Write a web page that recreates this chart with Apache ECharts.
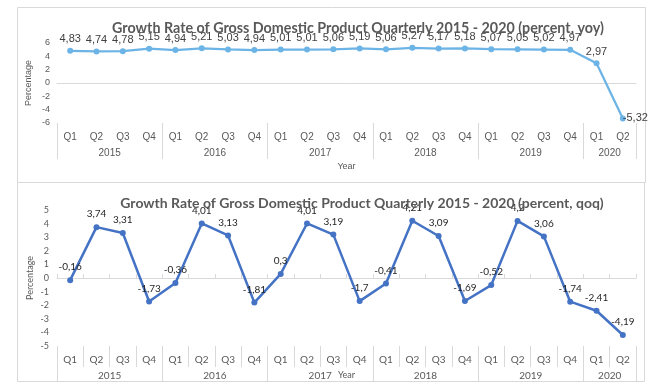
<!DOCTYPE html>
<html>
<head>
<meta charset="utf-8">
<script src="https://cdn.jsdelivr.net/npm/echarts@6/dist/echarts.min.js"></script>
<style>
html,body{margin:0;padding:0;background:#fff;}
#c{width:656px;height:389px;}
</style>
</head>
<body>
<div id="c"></div>
<script>
// ---- data ----
const years = ['2015', '2016', '2017', '2018', '2019', '2020'];
const quartersPerYear = [4, 4, 4, 4, 4, 2];
const quarterNames = ['Q1', 'Q2', 'Q3', 'Q4'];
const yoyValues = [4.83, 4.74, 4.78, 5.15, 4.94, 5.21, 5.03, 4.94, 5.01, 5.01, 5.06, 5.19, 5.06, 5.27, 5.17, 5.18, 5.07, 5.05, 5.02, 4.97, 2.97, -5.32];
const qoqValues = [-0.16, 3.74, 3.31, -1.73, -0.36, 4.01, 3.13, -1.81, 0.3, 4.01, 3.19, -1.7, -0.41, 4.21, 3.09, -1.69, -0.52, 4.2, 3.06, -1.74, -2.41, -4.19];
const topTitle = 'Growth Rate of Gross Domestic Product Quarterly 2015 - 2020 (percent, yoy)';
const bottomTitle = 'Growth Rate of Gross Domestic Product Quarterly 2015 - 2020 (percent, qoq)';

// ---- derived categories ----
const quarterCats = [];
years.forEach((y, i) => {
  for (let q = 0; q < quartersPerYear[i]; q++) quarterCats.push(y + '-' + quarterNames[q]);
});
const nQ = quarterCats.length;
const halfCats = [];
for (let j = 0; j <= 2 * nQ; j++) halfCats.push('h' + j);
const sepIdx = {}; const centerIdx = {};
let acc = 0;
sepIdx[0] = true;
years.forEach((y, i) => {
  centerIdx[2 * acc + quartersPerYear[i]] = y;
  acc += quartersPerYear[i];
  sepIdx[2 * acc] = true;
});

const fmtNum = v => String(v).replace('.', ',');
const gray = '#595959';
const lineGray = '#d9d9d9';
const fTop = '"Liberation Sans", Arial, sans-serif';
const fBot = 'Lato, "Noto Sans", sans-serif';

// zeroOffset: distance of the y=0 line above the grid bottom
function xAxesFor(gridIndex, font, showQSep, showZeroTicks, yearNameGap, zeroOffset) {
  return [
    {
      type: 'category', gridIndex, position: 'bottom', data: quarterCats,
      axisLine: {show: false, onZero: false},
      axisTick: {show: showQSep, length: 21, interval: 0, lineStyle: {color: lineGray}},
      axisLabel: {margin: 9, fontSize: 10, color: gray, fontFamily: font, interval: 0,
        formatter: v => v.split('-')[1]},
      splitLine: {show: false}
    },
    {
      type: 'category', gridIndex, position: 'bottom', data: halfCats, boundaryGap: false,
      axisLine: {show: false, onZero: false},
      axisTick: {show: true, length: 36, interval: (i) => !!sepIdx[i], lineStyle: {color: lineGray}},
      axisLabel: {margin: 25, fontSize: 10, color: gray, fontFamily: font,
        interval: (i) => centerIdx[i] !== undefined,
        formatter: (v, i) => centerIdx[i] || ''},
      name: 'Year', nameLocation: 'middle', nameGap: yearNameGap, nameMoveOverlap: false,
      nameTextStyle: {fontSize: 9, color: gray, fontFamily: font},
      splitLine: {show: false}
    },
    {
      type: 'category', gridIndex, position: 'bottom', data: quarterCats, offset: -zeroOffset,
      axisLine: {show: true, onZero: false, lineStyle: {color: lineGray, width: 1}},
      axisTick: {show: showZeroTicks, inside: true, length: 4, interval: 0, lineStyle: {color: lineGray}},
      axisLabel: {show: false},
      splitLine: {show: false}
    }
  ];
}

const chart = echarts.init(document.getElementById('c'), null, {renderer: 'canvas'});
chart.setOption({
  backgroundColor: '#fff',
  animation: false,
  graphic: [
    {type: 'rect', shape: {x: 17.5, y: 7.5, width: 628, height: 175}, style: {fill: 'none', stroke: lineGray, lineWidth: 1}},
    {type: 'rect', shape: {x: 17.5, y: 182.5, width: 627, height: 199}, style: {fill: 'none', stroke: lineGray, lineWidth: 1}}
  ],
  title: [
    {text: topTitle, left: 353, top: 16, textAlign: 'center',
      textStyle: {fontSize: 14.3, fontWeight: 'bold', color: gray, fontFamily: fBot}},
    {text: bottomTitle, left: 357, top: 191, textAlign: 'center',
      textStyle: {fontSize: 14, fontWeight: 'bold', color: gray, fontFamily: fBot}}
  ],
  grid: [
    {left: 57, width: 579, top: 43, height: 80},
    {left: 57, width: 579, top: 210, height: 136}
  ],
  xAxis: [].concat(
    xAxesFor(0, fTop, false, false, 39, 40),
    xAxesFor(1, fBot, true, true, 25, 68)
  ),
  yAxis: [
    {type: 'value', gridIndex: 0, min: -6, max: 6, interval: 2,
      axisLine: {show: false}, axisTick: {show: false}, splitLine: {show: false},
      axisLabel: {fontSize: 9, color: gray, margin: 7, fontFamily: fTop},
      name: 'Percentage', nameLocation: 'middle', nameRotate: 90, nameGap: 24, nameMoveOverlap: false,
      nameTextStyle: {fontSize: 9, color: gray, fontFamily: fTop}},
    {type: 'value', gridIndex: 1, min: -5, max: 5, interval: 1,
      axisLine: {show: false}, axisTick: {show: false}, splitLine: {show: false},
      axisLabel: {fontSize: 9, color: gray, margin: 8, fontFamily: fBot},
      name: 'Percentage', nameLocation: 'middle', nameRotate: 90, nameGap: 22, nameMoveOverlap: false,
      nameTextStyle: {fontSize: 9, color: gray, fontFamily: fBot}}
  ],
  series: [
    {type: 'line', xAxisIndex: 0, yAxisIndex: 0,
      data: yoyValues.map((v, i) => i === yoyValues.length - 1 ? {value: v, label: {position: 'right', distance: -3}} : v),
      symbol: 'circle', symbolSize: 6, color: '#6cb4e6',
      lineStyle: {width: 2.25, color: '#6cb4e6'},
      label: {show: true, position: 'top', distance: 3, fontSize: 11, color: '#404040', fontFamily: fTop,
        formatter: p => fmtNum(p.value)}},
    {type: 'line', xAxisIndex: 3, yAxisIndex: 1, data: qoqValues,
      symbol: 'circle', symbolSize: 6, color: '#4472c4',
      lineStyle: {width: 2.5, color: '#4472c4'},
      label: {show: true, position: 'top', distance: 5, fontSize: 10, color: '#262626', fontFamily: fBot,
        formatter: p => fmtNum(p.value)}}
  ]
});
</script>
</body>
</html>
